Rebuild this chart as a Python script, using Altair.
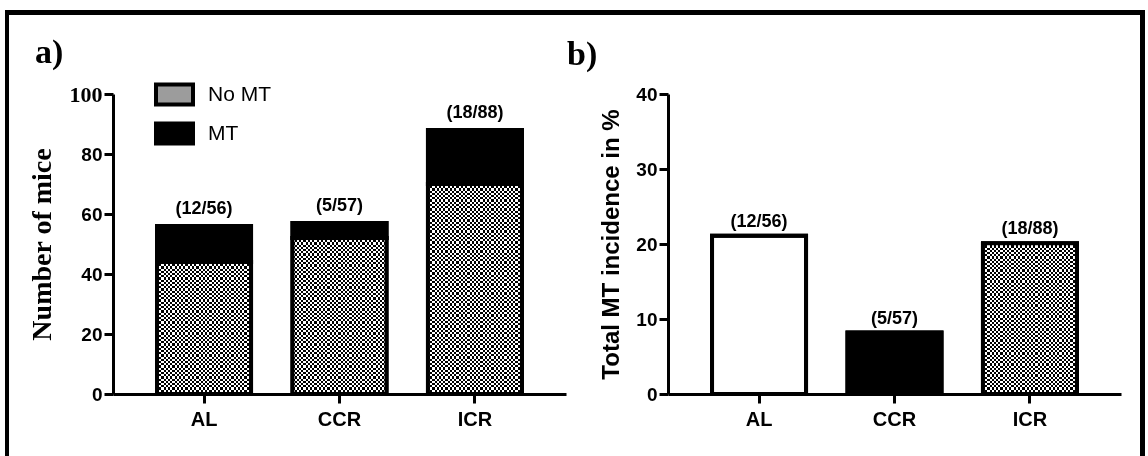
import altair as alt
import pandas as pd

# ---------------- data ----------------
groups = ["AL", "CCR", "ICR"]
status_names = ["No MT", "MT"]
no_mt_counts = [44, 52, 70]
mt_counts = [12, 5, 18]
ratio_labels = ["(12/56)", "(5/57)", "(18/88)"]
incidence_pct = [21.1, 8.2, 20.1]
left_ticks = [0, 20, 40, 60, 80, 100]
right_ticks = [0, 10, 20, 30, 40]

# ---------------- style ----------------
SANS = "Liberation Sans"
SERIF = "Liberation Serif"
W, H = 453, 300
P_IN, P_OUT = 0.306, 0.325
CELL = 2.2
step = W / (len(groups) - P_IN + 2 * P_OUT)
band_px = step * (1 - P_IN)


def stripes(n, vertical):
    stops = []
    for i in range(n):
        c = "black" if i % 2 == 0 else "white"
        stops.append(alt.GradientStop(offset=i / n, color=c))
        stops.append(alt.GradientStop(offset=(i + 1) / n, color=c))
    return alt.LinearGradient(gradient="linear", stops=stops, x1=0, y1=0,
                              x2=1 if vertical else 0, y2=0 if vertical else 1)


left_df = pd.DataFrame({
    "group": groups + groups,
    "status": ["No MT"] * len(groups) + ["MT"] * len(groups),
    "count": no_mt_counts + mt_counts,
})
left_df["ord"] = left_df["status"].map({"No MT": 0, "MT": 1})
tot_df = pd.DataFrame({"group": groups,
                       "total": [a + b for a, b in zip(no_mt_counts, mt_counts)],
                       "label": ratio_labels})
right_df = pd.DataFrame({"group": groups, "pct": incidence_pct, "label": ratio_labels})
one = pd.DataFrame({"k": [0]})

x_axis = alt.Axis(title=None, labelAngle=0, labelFont=SANS, labelFontSize=20,
                  labelFontWeight="bold", labelColor="black", labelPadding=6,
                  tickSize=9, tickWidth=3, tickColor="black", domainWidth=3,
                  domainColor="black", grid=False)
X = alt.X("group:N", sort=groups, title=None,
          scale=alt.Scale(domain=groups, paddingInner=P_IN, paddingOuter=P_OUT),
          axis=x_axis)

y_axis_left = alt.Axis(
    values=left_ticks, grid=False, domainWidth=3, domainColor="black",
    tickSize=9, tickWidth=3, tickColor="black", labelPadding=2, labelColor="black",
    labelFontWeight="bold",
    labelFont={"condition": {"test": "datum.value == 100", "value": SERIF}, "value": SANS},
    labelFontSize={"condition": {"test": "datum.value == 100", "value": 22}, "value": 19},
    title="Number of mice", titleFont=SERIF, titleFontSize=28, titleFontWeight="bold",
    titleColor="black", titleX=-63, titleY=H / 2, titleBaseline="alphabetic")
y_axis_right = alt.Axis(
    values=right_ticks, grid=False, domainWidth=3, domainColor="black",
    tickSize=9, tickWidth=3, tickColor="black", labelPadding=2, labelColor="black",
    labelFontWeight="bold", labelFont=SANS, labelFontSize=19,
    title="Total MT incidence in %", titleFont=SANS, titleFontSize=24,
    titleFontWeight="bold", titleColor="black", titleX=-50, titleY=H / 2,
    titleBaseline="alphabetic")

yscale_left = alt.Scale(domain=[0, 100], nice=False)
yscale_right = alt.Scale(domain=[0, 40], nice=False)


def YL(field):
    return alt.Y(field, scale=yscale_left, axis=y_axis_left, stack="zero")


def YR(field):
    return alt.Y(field, scale=yscale_right, axis=y_axis_right)


n_v = round(band_px / CELL)

# ---------------- left panel ----------------
legend = alt.Legend(title=None, orient="none", legendX=41, legendY=-20,
                    symbolType="M-1,-0.54L1,-0.54L1,0.54L-1,0.54Z", symbolSize=1369,
                    symbolStrokeColor="black", symbolStrokeWidth=4, labelFont=SANS,
                    labelFontSize=21, labelColor="black", labelOffset=13,
                    rowPadding=0, padding=0)
base_l = alt.Chart(left_df).mark_bar(stroke="black", strokeWidth=4).encode(
    x=X, y=YL("count:Q"),
    color=alt.Color("status:N", scale=alt.Scale(domain=status_names, range=["#9c9c9c", "black"]),
                    legend=legend),
    order=alt.Order("ord:Q"))
vstr_l = alt.Chart(left_df).transform_filter("datum.status == 'No MT'").mark_bar(
    fill=stripes(n_v, True)).encode(x=X, y=YL("count:Q"))
hstr_l = []
for g, v in zip(groups, no_mt_counts):
    n_h = round(v * H / 100 / CELL)
    hstr_l.append(
        alt.Chart(left_df)
        .transform_filter(f"datum.status == 'No MT' && datum.group == '{g}'")
        .mark_bar(fill=stripes(n_h, False), blend="difference")
        .encode(x=X, y=YL("count:Q")))
stroke_l = alt.Chart(left_df).mark_bar(fillOpacity=0, stroke="black", strokeWidth=4).encode(
    x=X, y=YL("count:Q"), detail="status:N", order=alt.Order("ord:Q"))
text_l = alt.Chart(tot_df).mark_text(dy=-8, baseline="bottom", font=SANS, fontSize=18,
                                     fontWeight="bold", color="black").encode(
    x=X, y=YL("total:Q"), text="label:N")

frame_parts = [(-108, -104, -84, 362), (-108, 1032, -84, -79), (1027, 1032, -84, 362)]
frames = [alt.Chart(one).mark_rect(color="black").encode(
    x=alt.value(a), x2=alt.value(b), y=alt.value(c), y2=alt.value(d)) for a, b, c, d in frame_parts]
tag_a = alt.Chart(one).mark_text(text="a)", font=SERIF, fontSize=34, fontWeight="bold",
                                 align="left", baseline="alphabetic", color="black").encode(
    x=alt.value(-78), y=alt.value(-31))

left = alt.layer(base_l, vstr_l, *hstr_l, stroke_l, text_l, *frames, tag_a).properties(
    width=W, height=H)

# ---------------- right panel ----------------
base_r = alt.Chart(right_df).mark_bar(stroke="black", strokeWidth=4).encode(
    x=X, y=YR("pct:Q"),
    color=alt.Color("group:N", scale=alt.Scale(domain=groups, range=["white", "black", "#9c9c9c"]),
                    legend=None))
vstr_r = alt.Chart(right_df).transform_filter("datum.group == 'ICR'").mark_bar(
    fill=stripes(n_v, True)).encode(x=X, y=YR("pct:Q"))
n_hr = round(incidence_pct[2] * H / 40 / CELL)
hstr_r = alt.Chart(right_df).transform_filter("datum.group == 'ICR'").mark_bar(
    fill=stripes(n_hr, False), blend="difference").encode(x=X, y=YR("pct:Q"))
stroke_r = alt.Chart(right_df).mark_bar(fillOpacity=0, stroke="black", strokeWidth=4).encode(
    x=X, y=YR("pct:Q"))
text_r = alt.Chart(right_df).mark_text(dy=-5, baseline="bottom", font=SANS, fontSize=18,
                                       fontWeight="bold", color="black").encode(
    x=X, y=YR("pct:Q"), text="label:N")
tag_b = alt.Chart(one).mark_text(text="b)", font=SERIF, fontSize=34, fontWeight="bold",
                                 align="left", baseline="alphabetic", color="black").encode(
    x=alt.value(-101), y=alt.value(-29))

right = alt.layer(base_r, vstr_r, hstr_r, stroke_r, text_r, tag_b).properties(width=W, height=H)

chart = (
    alt.hconcat(left, right, spacing=102, bounds="flush")
    .resolve_scale(color="independent", x="independent", y="independent")
    .properties(padding={"left": 5, "top": 10, "right": 3, "bottom": 0})
    .configure(background="white", view=alt.ViewConfig(stroke=None))
)

chart.save("out.html", embed_options={"renderer": "svg", "actions": False})
